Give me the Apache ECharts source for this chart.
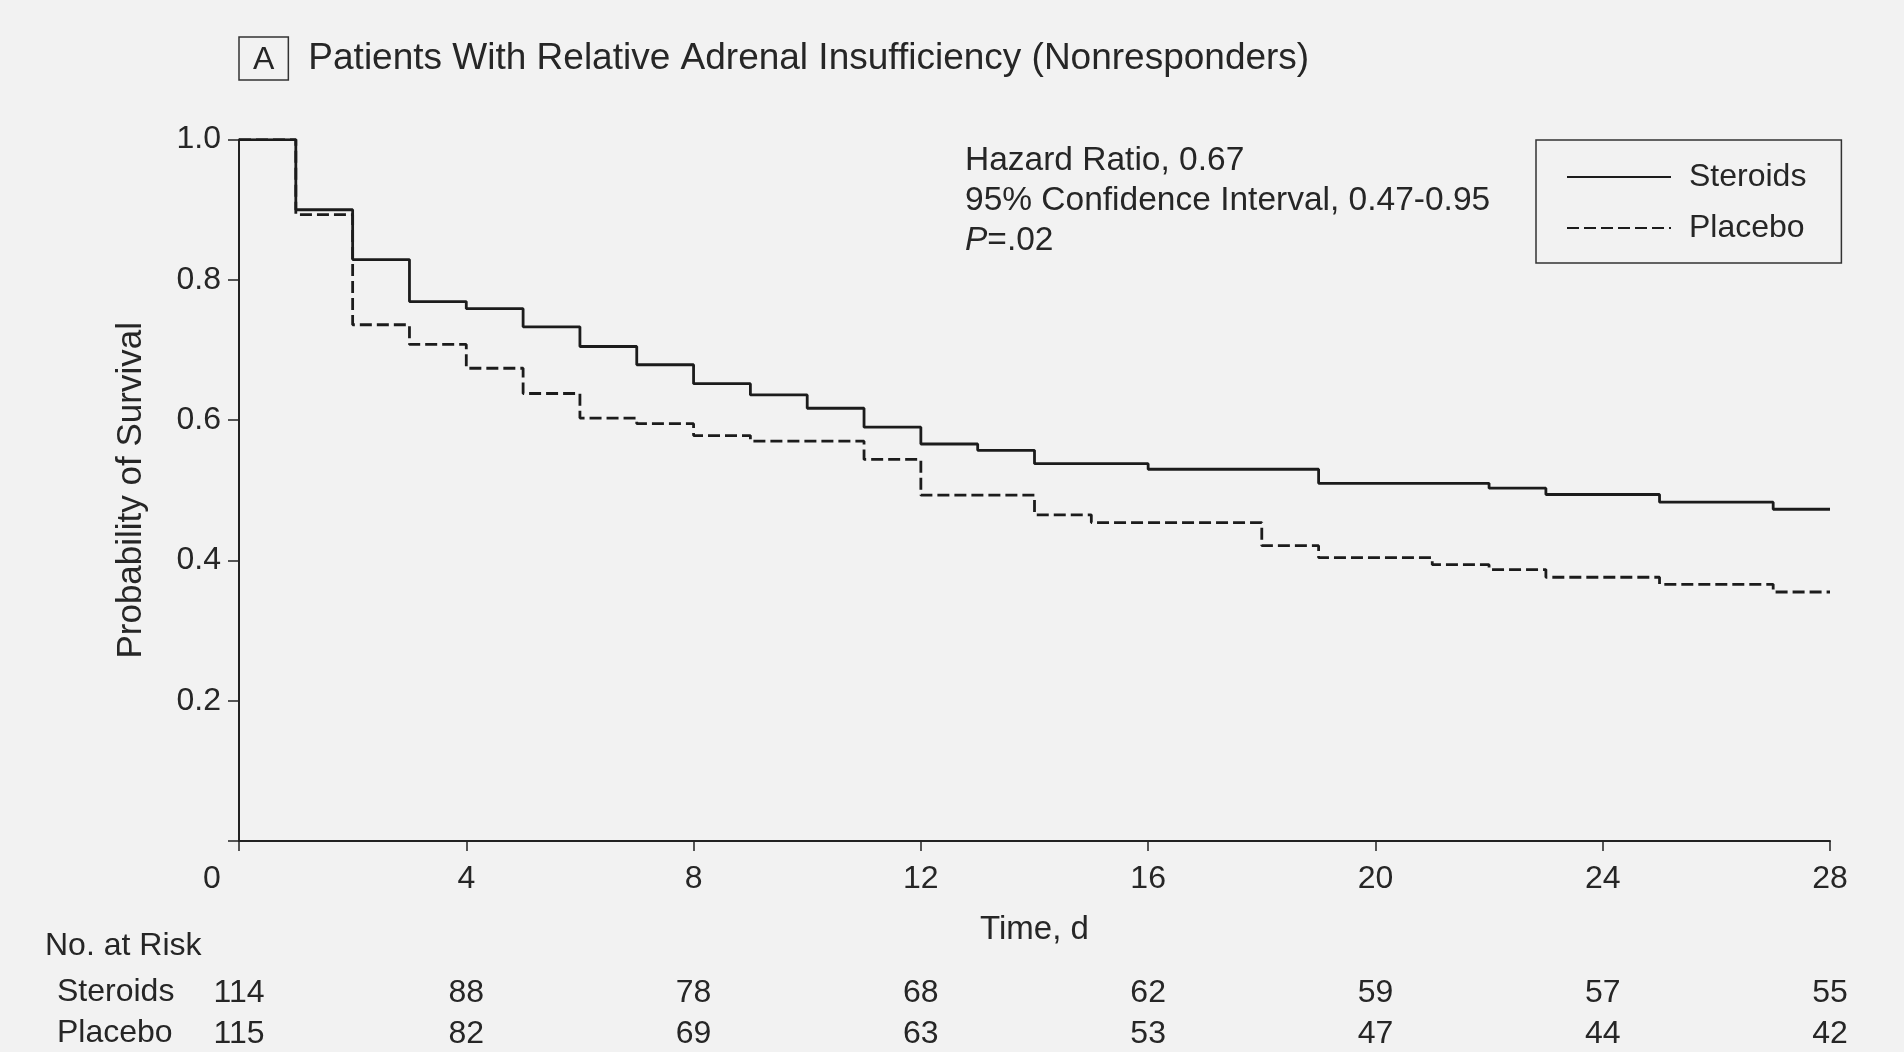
<!DOCTYPE html>
<html>
<head>
    <meta charset="utf-8"/>
    <title>Kaplan-Meier - Nonresponders</title>
    <script src="https://cdn.jsdelivr.net/npm/echarts@6/dist/echarts.min.js"></script>
    <style>
        html, body { margin: 0; padding: 0; background: #f2f2f2; }
    </style>
</head>
<body>
<div id="main" style="width: 1904px;height:1052px;"></div>
<script type="text/javascript">
    // step times (days) and survival probability after each step
    var steroidTimes = [0, 1, 2, 3, 4, 5, 6, 7, 8, 9, 10, 11, 12, 13, 14, 16, 19, 22, 23, 25, 27, 28];
    var steroidSurv = [1.0, 0.90, 0.829, 0.769, 0.759, 0.733, 0.705, 0.679, 0.652, 0.636, 0.617, 0.590, 0.566, 0.557, 0.538, 0.530, 0.510, 0.503, 0.494, 0.483, 0.473, 0.473];
    var placeboTimes = [0, 1, 2, 3, 4, 5, 6, 7, 8, 9, 11, 12, 14, 15, 18, 19, 21, 22, 23, 25, 27, 28];
    var placeboSurv = [1.0, 0.893, 0.736, 0.708, 0.674, 0.638, 0.603, 0.595, 0.578, 0.570, 0.544, 0.493, 0.465, 0.454, 0.421, 0.404, 0.394, 0.387, 0.376, 0.366, 0.355, 0.355];

    // number at risk, every 4 days
    var riskDays = [0, 4, 8, 12, 16, 20, 24, 28];
    var steroidRisk = [114, 88, 78, 68, 62, 59, 57, 55];
    var placeboRisk = [115, 82, 69, 63, 53, 47, 44, 42];

    var yTicks = [0.2, 0.4, 0.6, 0.8, 1.0];

    var FONT = '"Liberation Sans", Arial, sans-serif';
    var INK = '#262626';

    function pairs(xs, ys) {
        return xs.map(function (x, i) { return [x, ys[i]]; });
    }
    function riskLabel(list) {
        return function (v) {
            var i = riskDays.indexOf(v);
            return i < 0 ? '' : String(list[i]);
        };
    }
    function riskAxis(list, offset) {
        return {
            type: 'value', gridIndex: 0, position: 'bottom', offset: offset,
            min: 0, max: 28, interval: 4,
            axisLine: {show: false}, axisTick: {show: false}, splitLine: {show: false},
            axisLabel: {margin: 0, formatter: riskLabel(list), color: INK, fontSize: 32, fontFamily: FONT, lineHeight: 32}
        };
    }

    var myChart = echarts.init(document.getElementById('main'));

    var option = {
        backgroundColor: '#f2f2f2',
        animation: false,
        title: {
            text: '{box|A}{sp|}Patients With Relative Adrenal Insufficiency (Nonresponders)',
            left: 239, top: 37,
            padding: 0,
            textStyle: {
                color: INK, fontSize: 37, fontWeight: 'normal', fontFamily: FONT,
                rich: {
                    box: {
                        color: INK, fontSize: 32, fontFamily: FONT,
                        borderColor: '#333', borderWidth: 1.5,
                        padding: [7, 14, 4, 14]
                    },
                    sp: {width: 20}
                }
            }
        },
        legend: {
            orient: 'vertical',
            left: 1536, top: 140,
            padding: [19, 35, 17, 30],
            itemGap: 15,
            itemWidth: 104, itemHeight: 14,
            borderColor: '#333', borderWidth: 1.5,
            itemStyle: {color: 'rgba(0,0,0,0)', borderWidth: 0, opacity: 0},
            textStyle: {color: INK, fontSize: 32, fontFamily: FONT, lineHeight: 36, padding: [0, 0, 0, 13]},
            data: ['Steroids', 'Placebo']
        },
        grid: {left: 239, right: 74, top: 139.6, bottom: 211},
        xAxis: [{
            type: 'value', min: 0, max: 28, interval: 4,
            name: 'Time, d', nameLocation: 'middle', nameGap: 72,
            nameTextStyle: {color: INK, fontSize: 33, fontFamily: FONT},
            axisLine: {lineStyle: {color: '#222', width: 2}},
            axisTick: {length: 10, lineStyle: {color: '#222', width: 1.5}},
            splitLine: {show: false},
            axisLabel: {
                margin: 22, color: INK, fontSize: 32, fontFamily: FONT,
                formatter: function (v) { return v === 0 ? '{o|0}' : String(v); },
                rich: {o: {color: INK, fontSize: 32, fontFamily: FONT, padding: [0, 54, 0, 0]}}
            }
        },
            riskAxis(steroidRisk, 136),
            riskAxis(placeboRisk, 177)
        ],
        yAxis: {
            type: 'value', min: 0, max: 1, interval: 0.2,
            name: 'Probability of Survival', nameLocation: 'middle', nameGap: 90,
            nameTextStyle: {color: INK, fontSize: 35, fontFamily: FONT},
            axisLine: {show: true, lineStyle: {color: '#222', width: 2}},
            axisTick: {length: 11, lineStyle: {color: '#222', width: 1.5}},
            splitLine: {show: false},
            axisLabel: {
                margin: 18, color: INK, fontSize: 32, fontFamily: FONT,
                formatter: function (v) {
                    return yTicks.some(function (t) { return Math.abs(t - v) < 1e-6; }) ? v.toFixed(1) : '';
                }
            }
        },
        graphic: [
            {
                type: 'text', left: 965, top: 141,
                style: {
                    text: 'Hazard Ratio, 0.67\n95% Confidence Interval, 0.47-0.95\n{i|P}=.02',
                    fill: INK, fontSize: 33.5, fontFamily: FONT, lineHeight: 40,
                    rich: {i: {fontStyle: 'italic', fontSize: 33.5, fontFamily: FONT, fill: INK}}
                }
            },
            {type: 'text', left: 45, top: 930, style: {text: 'No. at Risk', fill: INK, fontSize: 32, fontFamily: FONT}},
            {type: 'text', left: 57, top: 976, style: {text: 'Steroids', fill: INK, fontSize: 32, fontFamily: FONT}},
            {type: 'text', left: 57, top: 1017, style: {text: 'Placebo', fill: INK, fontSize: 32, fontFamily: FONT}}
        ],
        series: [
            {
                name: 'Steroids', type: 'line', step: 'end', symbol: 'none',
                xAxisIndex: 0,
                lineStyle: {color: '#1c1c1c', width: 2.8},
                itemStyle: {color: '#1c1c1c'},
                data: pairs(steroidTimes, steroidSurv)
            },
            {
                name: 'Placebo', type: 'line', step: 'end', symbol: 'none',
                xAxisIndex: 0,
                lineStyle: {color: '#1c1c1c', width: 2.8, type: [12, 5]},
                itemStyle: {color: '#1c1c1c'},
                data: pairs(placeboTimes, placeboSurv)
            }
        ]
    };

    myChart.setOption(option);
</script>
</body>
</html>
